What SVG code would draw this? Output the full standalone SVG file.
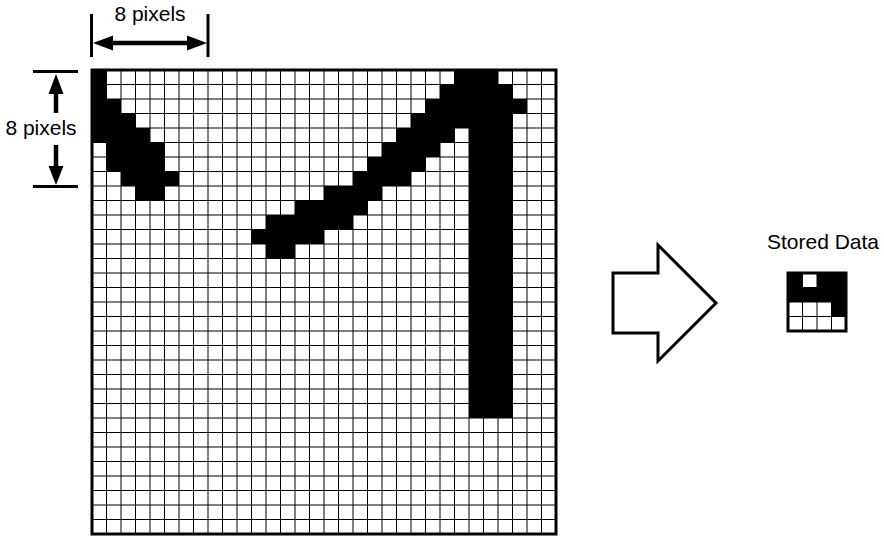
<svg xmlns="http://www.w3.org/2000/svg" width="884" height="536" viewBox="0 0 884 536">
<style>
.t{font-family:"Liberation Sans",Arial,sans-serif;font-size:21px;fill:#000}
.b{fill:#000}
.g{stroke:#000;stroke-width:1;fill:none}
.dim{stroke:#000;stroke-width:3;fill:none}
</style>
<rect width="884" height="536" fill="#fff"/>
<g id="pixel-grid">
<rect x="92" y="70" width="464" height="464" fill="#fff"/>
<path class="g" d="M106.5 70V534M121 70V534M135.5 70V534M150 70V534M164.5 70V534M179 70V534M193.5 70V534M208 70V534M222.5 70V534M237 70V534M251.5 70V534M266 70V534M280.5 70V534M295 70V534M309.5 70V534M324 70V534M338.5 70V534M353 70V534M367.5 70V534M382 70V534M396.5 70V534M411 70V534M425.5 70V534M440 70V534M454.5 70V534M469 70V534M483.5 70V534M498 70V534M512.5 70V534M527 70V534M541.5 70V534M92 84.5H556M92 99H556M92 113.5H556M92 128H556M92 142.5H556M92 157H556M92 171.5H556M92 186H556M92 200.5H556M92 215H556M92 229.5H556M92 244H556M92 258.5H556M92 273H556M92 287.5H556M92 302H556M92 316.5H556M92 331H556M92 345.5H556M92 360H556M92 374.5H556M92 389H556M92 403.5H556M92 418H556M92 432.5H556M92 447H556M92 461.5H556M92 476H556M92 490.5H556M92 505H556M92 519.5H556"/>
<g class="b">
<rect x="92" y="70" width="14.5" height="29"/>
<rect x="92" y="99" width="29" height="14.5"/>
<rect x="92" y="113.5" width="43.5" height="14.5"/>
<rect x="92" y="128" width="58" height="14.5"/>
<rect x="106.5" y="142.5" width="58" height="14.5"/>
<rect x="106.5" y="157" width="58" height="14.5"/>
<rect x="121" y="171.5" width="58" height="14.5"/>
<rect x="135.5" y="186" width="29" height="14.5"/>
<rect x="454.5" y="70" width="43.5" height="14.5"/>
<rect x="440" y="84.5" width="72.5" height="14.5"/>
<rect x="425.5" y="99" width="101.5" height="14.5"/>
<rect x="411" y="113.5" width="101.5" height="14.5"/>
<rect x="396.5" y="128" width="58" height="14.5"/>
<rect x="382" y="142.5" width="58" height="14.5"/>
<rect x="367.5" y="157" width="58" height="14.5"/>
<rect x="353" y="171.5" width="58" height="14.5"/>
<rect x="324" y="186" width="58" height="14.5"/>
<rect x="295" y="200.5" width="72.5" height="14.5"/>
<rect x="266" y="215" width="87" height="14.5"/>
<rect x="251.5" y="229.5" width="72.5" height="14.5"/>
<rect x="266" y="244" width="29" height="14.5"/>
<rect x="469" y="128" width="43.5" height="290"/>
</g>
<rect x="92" y="70" width="464" height="464" fill="none" stroke="#000" stroke-width="3"/>
</g>
<g id="dim-top">
<path class="dim" d="M91.5 14V57M208 14V57"/>
<path d="M110 43H190" stroke="#000" stroke-width="4.5"/>
<polygon class="b" points="93,43 113,35.5 113,50.5"/>
<polygon class="b" points="207,43 187,35.5 187,50.5"/>
<text class="t" x="150" y="21" text-anchor="middle">8 pixels</text>
</g>
<g id="dim-left">
<path class="dim" d="M33 71.5H78M33 186.5H78"/>
<path d="M56 92V113M56 145V168" stroke="#000" stroke-width="4.5"/>
<polygon class="b" points="56,74 48.5,94 63.5,94"/>
<polygon class="b" points="56,185 48.5,166 63.5,166"/>
<text class="t" x="41" y="135" text-anchor="middle">8 pixels</text>
</g>
<g id="connectors">
<polygon points="613,273 658,273 658,245 716,303 658,361 658,333 613,333" fill="#fff" stroke="#000" stroke-width="3"/>
</g>
<g id="stored-data">
<text class="t" x="823" y="249" text-anchor="middle">Stored Data</text>
<rect x="788" y="273" width="58" height="58" fill="#fff"/>
<g class="b">
<rect x="788" y="273" width="14.5" height="14.5"/>
<rect x="817" y="273" width="29" height="14.5"/>
<rect x="788" y="287.5" width="58" height="14.5"/>
<rect x="831.5" y="302" width="14.5" height="14.5"/>
</g>
<path class="g" d="M802.5 273V331M817 273V331M831.5 273V331M788 287.5H846M788 302H846M788 316.5H846"/>
<rect x="788" y="273" width="58" height="58" fill="none" stroke="#000" stroke-width="3"/>
</g>
</svg>
